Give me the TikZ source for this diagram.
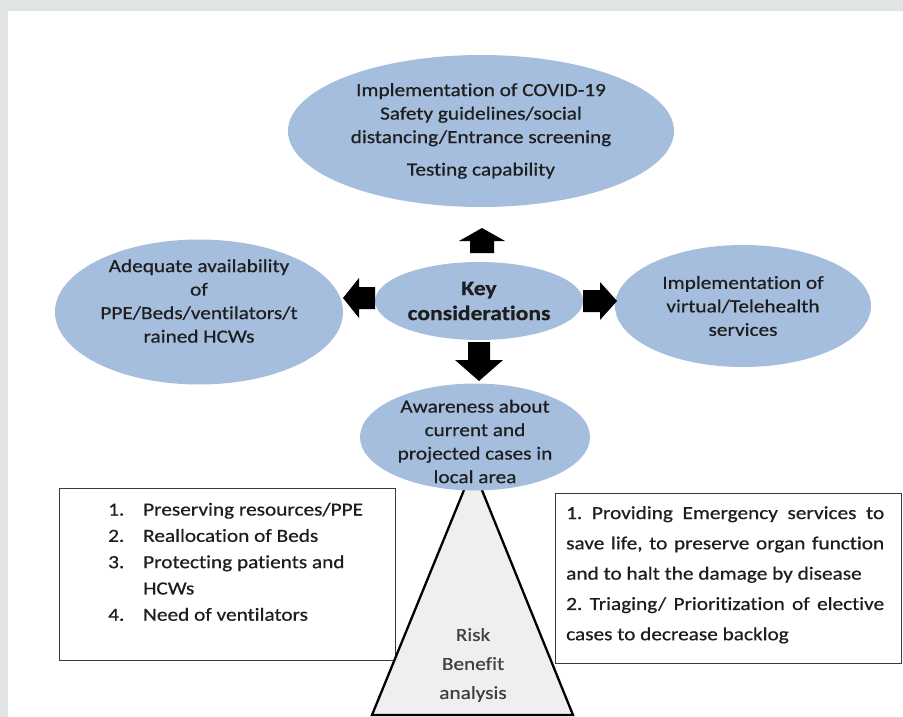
\documentclass[tikz,border=0pt]{standalone}
\usepackage{fontspec}
\setmainfont{Carlito}[FakeStretch=1.15, Ligatures=NoCommon, FakeBold=0.6]
\usetikzlibrary{shapes.geometric}
\definecolor{ellblue}{HTML}{A6BEDE}
\definecolor{txt}{HTML}{1E1E1E}
\definecolor{framegray}{HTML}{E1E5E6}
\definecolor{trifill}{HTML}{EFEFEF}
\definecolor{boxline}{HTML}{3A3A3A}
\begin{document}
\frenchspacing
\begin{tikzpicture}[x=1pt,y=-1pt,
  bubble/.style={ellipse, fill=ellblue, inner sep=0pt, text=txt, align=center,
    font=\fontsize{18.5}{23.5}\selectfont},
  bubbletext/.style={inner sep=0pt, text=txt, align=center,
    font=\fontsize{18.5}{23.5}\selectfont},
  blockarrow/.style={fill=black, draw=none},
  listbox/.style={draw=boxline, line width=1.3pt, fill=white, inner sep=0pt, anchor=north west},
  boxtext/.style={text=txt, inner sep=0pt, anchor=north west, align=left},
]
\useasboundingbox (0,0) rectangle (903,717);
\fill[framegray] (0,0) rectangle (903,717);
\fill[white] (8,11) rectangle (903,717);

% boxes
\node[listbox, minimum width=336pt, minimum height=172pt] (lbox) at (59,488) {};
\node[listbox, minimum width=346pt, minimum height=170pt] (rbox) at (555,493) {};

\node[boxtext, font=\fontsize{18.5}{26.3}\selectfont] (ltext) at (108,502.5)
 {\makebox[35pt][l]{1.}Preserving resources/PPE\\
  \makebox[35pt][l]{2.}Reallocation of Beds\\
  \makebox[35pt][l]{3.}Protecting patients and\\
  \makebox[35pt][l]{}HCWs\\
  \makebox[35pt][l]{4.}Need of ventilators};

\node[boxtext, font=\fontsize{18.5}{30.3}\selectfont] (rtext) at (566,506)
 {\makebox[318pt][s]{1. Providing Emergency services to}\\
  \makebox[318pt][s]{save life, to preserve organ function}\\
  and to halt the damage by disease\\
  \makebox[318pt][s]{2. Triaging/ Prioritization of elective}\\
  cases to decrease backlog};

% triangle
\coordinate (apex) at (473,468);
\coordinate (bl) at (372,715);
\coordinate (br) at (573,715);
\draw[fill=trifill, line width=2.3pt, line join=miter] (apex) -- (bl) -- (br) -- cycle;
\node[text=black!75, align=center, font=\fontsize{18.5}{29}\selectfont, inner sep=0pt] (risk) at (473,665)
 {Risk\\Benefit\\analysis};

% ellipses
\node[bubble, minimum width=386pt, minimum height=152pt] (top) at (481,131)
 {Implementation of COVID-19\\Safety guidelines/social\\distancing/Entrance screening\\[9pt]Testing capability};
\node[bubble, minimum width=208pt, minimum height=78pt, font=\bfseries\fontsize{20.5}{25}\selectfont] (key) at (479,301)
 {Key\\considerations};
\node[bubble, minimum width=288pt, minimum height=145pt] (left) at (199,312) {};
\node[bubbletext] (lefttext) at ([yshift=11pt]left.center)
 {Adequate availability\\of\\PPE/Beds/ventilators/t\\rained HCWs};
\node[bubble, minimum width=256pt, minimum height=122pt] (right) at (743,306)
 {Implementation of\\virtual/Telehealth\\services};
\node[bubble, minimum width=230pt, minimum height=107pt] (aware) at (475,437) {};
\node[bubbletext] (awaretext) at ([yshift=-4.5pt]aware.center)
 {Awareness about\\current and\\projected cases in\\local area};

% block arrows
\fill[blockarrow] (470,253) -- (494,253) -- (494,241) -- (505,241) -- (482,228) -- (459,241) -- (470,241) -- cycle;
\fill[blockarrow] (468,342) -- (490,342) -- (490,360) -- (503,360) -- (479,381) -- (455,360) -- (468,360) -- cycle;
\fill[blockarrow] (375,287) -- (375,309) -- (359,309) -- (359,318) -- (343,298) -- (359,278) -- (359,287) -- cycle;
\fill[blockarrow] (583,290) -- (583,312) -- (600,312) -- (600,320) -- (617,301) -- (600,282) -- (600,290) -- cycle;
\end{tikzpicture}
\end{document}
